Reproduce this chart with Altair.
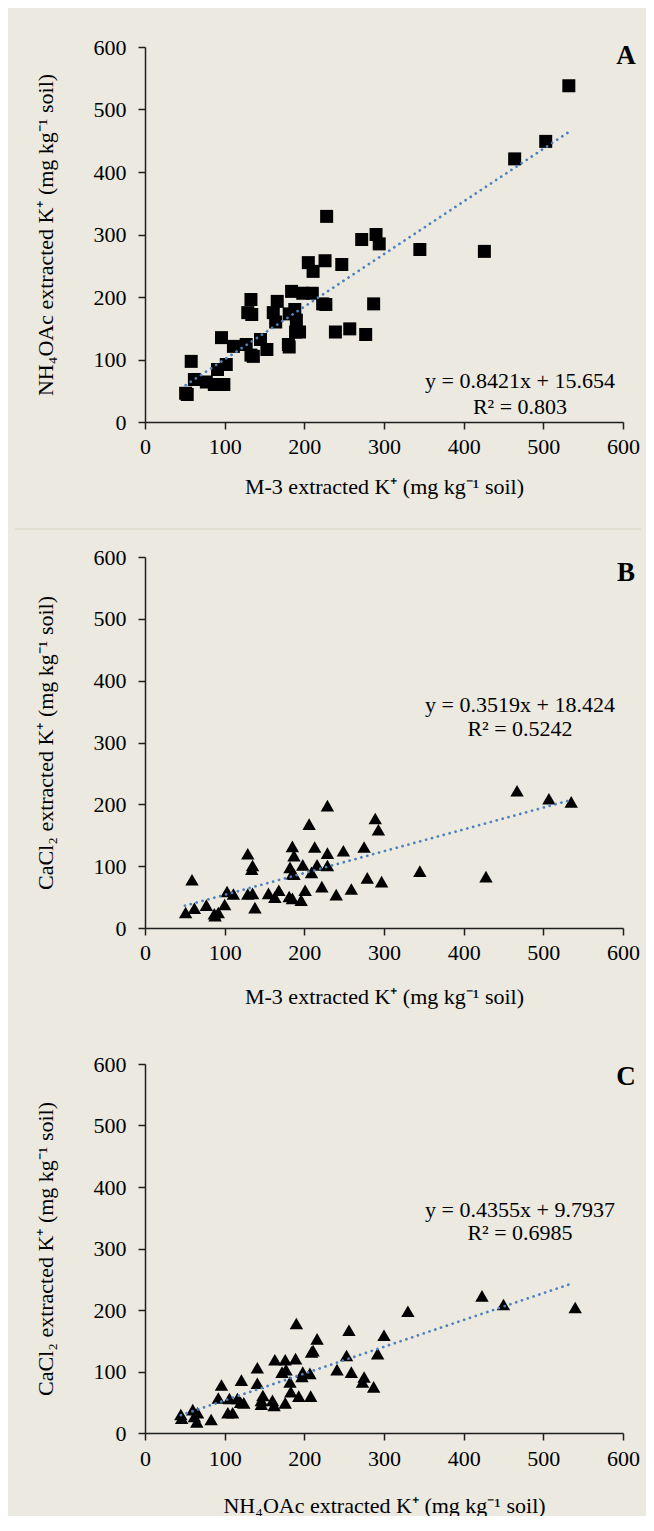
import altair as alt
import pandas as pd

# ---------------- data ----------------
# Panel A: M-3 extracted K+ (x) vs NH4OAc extracted K+ (y)
a_x = [51, 53, 58, 62, 77, 87, 91, 99, 102, 96, 111, 127, 133, 129, 134, 133, 136, 145, 153, 166,
       161, 164, 184, 181, 188, 190, 189, 194, 180, 181, 198, 210, 205, 211, 226, 228, 223, 227, 239, 247,
       257, 272, 277, 287, 290, 294, 345, 426, 464, 503, 532]
a_y = [46, 44, 97, 68, 64, 60, 84, 60, 92, 135, 121, 124, 196, 175, 172, 107, 105, 132, 116, 193,
       175, 160, 209, 173, 180, 163, 144, 144, 124, 120, 206, 206, 255, 241, 258, 329, 189, 188, 144, 252,
       149, 292, 140, 189, 300, 285, 276, 273, 421, 449, 538]
a_trend_x = [51, 532]
a_trend_y = [59, 464]

# Panel B: M-3 extracted K+ (x) vs CaCl2 extracted K+ (y)
b_x = [59, 51, 62, 77, 87, 88, 92, 100, 103, 111, 129, 135, 134, 129, 135, 138, 155, 163, 168, 185,
       187, 182, 185, 187, 198, 181, 185, 196, 201, 206, 213, 216, 209, 222, 229, 229, 229, 240, 249, 259,
       275, 279, 289, 293, 297, 345, 428, 467, 507, 535]
b_y = [78, 25, 32, 37, 23, 20, 25, 38, 59, 55, 120, 101, 95, 55, 56, 33, 56, 50, 61, 132,
       117, 98, 88, 87, 102, 51, 48, 45, 61, 168, 131, 102, 90, 67, 198, 121, 101, 54, 125, 63,
       131, 81, 177, 159, 75, 92, 83, 222, 209, 204]
b_trend_x = [50, 532]
b_trend_y = [36, 206]

# Panel C: NH4OAc extracted K+ (x) vs CaCl2 extracted K+ (y)
c_x = [45, 46, 60, 62, 66, 65, 83, 92, 96, 106, 104, 110, 116, 121, 124, 120, 141, 141, 146, 148,
       146, 160, 162, 163, 172, 176, 177, 176, 182, 183, 189, 190, 193, 197, 198, 207, 208, 209, 211, 216,
       241, 253, 256, 259, 273, 275, 287, 292, 300, 330, 423, 450, 540]
c_y = [30, 24, 38, 27, 33, 18, 22, 57, 78, 56, 33, 33, 56, 86, 49, 50, 106, 81, 53, 61,
       47, 53, 45, 119, 99, 119, 103, 49, 83, 67, 121, 178, 60, 92, 99, 97, 60, 132, 134, 153,
       103, 126, 167, 99, 83, 91, 75, 129, 159, 198, 223, 209, 204]
c_trend_x = [45, 538]
c_trend_y = [29, 244]

tick_values = [0, 100, 200, 300, 400, 500, 600]

title_m3 = "M-3 extracted K⁺ (mg kg⁻¹ soil)"
title_nh4 = "NH₄OAc extracted K⁺ (mg kg⁻¹ soil)"
title_cacl2 = "CaCl₂ extracted K⁺ (mg kg⁻¹ soil)"

eq_a = ["y = 0.8421x + 15.654", "R² = 0.803"]
eq_b = ["y = 0.3519x + 18.424", "R² = 0.5242"]
eq_c = ["y = 0.4355x + 9.7937", "R² = 0.6985"]

# ---------------- styling ----------------
BG = "#EBE9E0"
FONT = "Liberation Serif"
TREND = "#4F81BD"
W = 478
FS = 22


def panel(xs, ys, tx, ty, shape, size, eq, letter, xtitle, ytitle, h,
          eq_y, letter_y, x_lp, x_tp, extra_rules):
    xsc = alt.Scale(domain=[0, 600], nice=False, zero=True)
    ysc = alt.Scale(domain=[0, 600], nice=False, zero=True)
    xax = alt.Axis(values=tick_values, title=xtitle, labelPadding=x_lp, titlePadding=x_tp,
                   format="d")
    yax = alt.Axis(values=tick_values, title=ytitle, labelPadding=12, titlePadding=36,
                   format="d")
    pts = alt.Chart(pd.DataFrame({"x": xs, "y": ys})).mark_point(
        shape=shape, filled=True, color="black", size=size, opacity=1
    ).encode(
        x=alt.X("x:Q", scale=xsc, axis=xax),
        y=alt.Y("y:Q", scale=ysc, axis=yax),
    )
    trend = alt.Chart(pd.DataFrame({"x": tx, "y": ty})).mark_line(
        color=TREND, strokeWidth=2.7, strokeDash=[0.1, 6], strokeCap="round"
    ).encode(
        x=alt.X("x:Q", scale=xsc, axis=xax),
        y=alt.Y("y:Q", scale=ysc, axis=yax),
    )
    t1 = alt.Chart(pd.DataFrame({"t": [eq[0]]})).mark_text(
        font=FONT, fontSize=FS, color="black", align="center", baseline="middle"
    ).encode(text="t:N", x=alt.value(375), y=alt.value(eq_y[0]))
    t2 = alt.Chart(pd.DataFrame({"t": [eq[1]]})).mark_text(
        font=FONT, fontSize=FS, color="black", align="center", baseline="middle"
    ).encode(text="t:N", x=alt.value(375), y=alt.value(eq_y[1]))
    lt = alt.Chart(pd.DataFrame({"t": [letter]})).mark_text(
        font=FONT, fontSize=27, fontWeight="bold", color="black", align="center", baseline="middle"
    ).encode(text="t:N", x=alt.value(481), y=alt.value(letter_y))
    layers = [pts, trend, t1, t2, lt] + extra_rules
    return alt.layer(*layers).properties(width=W, height=h)


sep_a = alt.Chart(pd.DataFrame({"k": [0]})).mark_rule(color="#D6D3C5", strokeWidth=1).encode(
    x=alt.value(-130), x2=alt.value(496), y=alt.value(482)
)
spacer_b = alt.Chart(pd.DataFrame({"k": [0]})).mark_rule(strokeOpacity=0, strokeWidth=1).encode(
    x=alt.value(0), x2=alt.value(10), y=alt.value(480)
)

pa = panel(a_x, a_y, a_trend_x, a_trend_y, "square", 169, eq_a, "A", title_m3, title_nh4, 375,
           (334, 360), 9, 7, 19, [sep_a])
pb = panel(b_x, b_y, b_trend_x, b_trend_y, "triangle-up", 180, eq_b, "B", title_m3, title_cacl2, 371,
           (148, 172), 16, 7, 23, [spacer_b])
pc = panel(c_x, c_y, c_trend_x, c_trend_y, "triangle-up", 180, eq_c, "C", title_nh4, title_cacl2, 369,
           (146, 169), 13, 8, 26, [])

chart = alt.vconcat(pa, pb, pc, spacing=16).properties(
    padding={"left": 6, "right": 4, "top": 28, "bottom": 0}
).configure(
    background=BG
).configure_view(
    stroke=None
).configure_axis(
    grid=False,
    domainColor="#1F1F1F", domainWidth=1.5,
    tickColor="#1F1F1F", tickWidth=1.5, tickSize=7,
    labelFont=FONT, labelFontSize=FS, labelColor="black",
    labelFlush=False, labelOverlap=False,
    titleFont=FONT, titleFontSize=FS, titleFontWeight="normal", titleColor="black",
)

chart.save("out.html", embed_options={"renderer": "svg", "actions": False})
